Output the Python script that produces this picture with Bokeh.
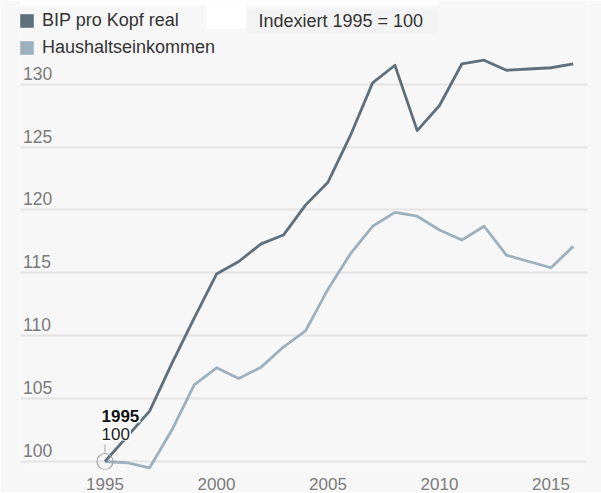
from bokeh.plotting import figure
from bokeh.models import (Range1d, FixedTicker, Legend, LegendItem, Label,
                          BoxAnnotation, ColumnDataSource)
from bokeh.core.properties import value
from bokeh.embed import file_html
from bokeh.resources import INLINE

# ---------------- data ----------------
years = list(range(1995, 2017))
bip_real = [100.0, 102.0, 104.0, 107.8, 111.4, 114.9, 115.9, 117.3, 118.0, 120.4,
            122.2, 125.9, 130.1, 131.5, 126.3, 128.3, 131.6, 131.9, 131.1, 131.2,
            131.3, 131.6]
haushalt = [100.0, 99.9, 99.5, 102.5, 106.1, 107.45, 106.6, 107.5, 109.1, 110.4,
            113.7, 116.5, 118.7, 119.8, 119.5, 118.4, 117.6, 118.7, 116.4, 115.9,
            115.4, 117.1]
series_names = ["BIP pro Kopf real", "Haushaltseinkommen"]
x_ticks = [1995, 2000, 2005, 2010, 2015]
y_ticks = [100, 105, 110, 115, 120, 125, 130]
y_tick_labels = [str(t) for t in y_ticks]
note_text = "Indexiert 1995 = 100"
ann_year = [1995]
ann_value = [100.0]
ann_year_label = ["1995"]
ann_value_label = ["100"]

# ---------------- styling / layout ----------------
FONT = "Liberation Sans"
BG = "#f7f7f7"
C_BIP = "#5f707c"
C_HH = "#9db0bd"
TICK_C = "#7b7b7b"

FRAME_W, FRAME_H = 567, 469
# calibration of the scales (page pixels)
PX_X1995, PX_PER_YEAR = 104.5, 22.3
PX_Y100, PX_PER_UNIT = 461.0, 12.58
FRAME_LEFT_PX, FRAME_TOP_PX = 20, 0

x0 = 1995 - (PX_X1995 - FRAME_LEFT_PX) / PX_PER_YEAR
x1 = x0 + FRAME_W / PX_PER_YEAR
y1 = 100 + (PX_Y100 - FRAME_TOP_PX) / PX_PER_UNIT
y0 = y1 - FRAME_H / PX_PER_UNIT

def xd(px):
    return x0 + (px - FRAME_LEFT_PX) / PX_PER_YEAR

def yd(py):
    return y1 - (py - FRAME_TOP_PX) / PX_PER_UNIT

p = figure(frame_width=FRAME_W, frame_height=FRAME_H,
           x_range=Range1d(x0, x1), y_range=Range1d(y0, y1),
           output_backend="svg", toolbar_location=None, y_axis_location=None,
           title=None, min_border_left=FRAME_LEFT_PX, min_border_right=14,
           min_border_top=0, min_border_bottom=0)
p.background_fill_color = BG
p.border_fill_color = BG
p.outline_line_color = None

p.xgrid.grid_line_color = None
p.ygrid.ticker = FixedTicker(ticks=y_ticks)
p.ygrid.grid_line_color = "#e4e4e4"
p.ygrid.grid_line_width = 2

ax = p.xaxis[0]
ax.ticker = FixedTicker(ticks=x_ticks)
ax.axis_line_color = None
ax.major_tick_line_color = None
ax.minor_tick_line_color = None
ax.major_label_standoff = 2
ax.major_label_text_font = FONT
ax.major_label_text_font_size = "17px"
ax.major_label_text_color = TICK_C

# top boxes
p.add_layout(BoxAnnotation(left=xd(0), right=xd(438), top=y1, bottom=yd(5),
                           fill_color="white", fill_alpha=1, line_color=None))
p.add_layout(BoxAnnotation(left=xd(206), right=xd(246), top=y1, bottom=yd(28),
                           fill_color="white", fill_alpha=1, line_color=None))
p.add_layout(BoxAnnotation(left=xd(246), right=xd(438), top=yd(8), bottom=yd(33),
                           fill_color="#f3f3f3", fill_alpha=1, line_color=None))

# y tick labels inside the plot, above grid lines
p.text(x=[x0] * len(y_ticks), y=y_ticks, text=y_tick_labels,
       x_offset=2.5, y_offset=-11, text_align="left", text_baseline="alphabetic",
       text_font=value(FONT), text_font_size="17.5px", text_color=TICK_C)

src = ColumnDataSource(dict(year=years, bip=bip_real, hh=haushalt))
r_hh = p.line("year", "hh", source=src, line_color=C_HH, line_width=2.8,
              line_join="round")
r_bip = p.line("year", "bip", source=src, line_color=C_BIP, line_width=2.8,
               line_join="round")

# annotation of the base year
p.scatter(x=ann_year, y=ann_value, marker="circle", size=16, fill_color=None,
          line_color="#a5a5a5", line_width=1.2)
p.segment(x0=ann_year, y0=[v + 0.72 for v in ann_value],
          x1=ann_year, y1=[v + 1.35 for v in ann_value],
          line_color="#b5b5b5", line_width=1.2)
p.text(x=ann_year, y=ann_value, text=ann_value_label, x_offset=-4.5, y_offset=-28,
       text_align="left", text_baseline="alphabetic", text_font=value(FONT),
       text_font_size="17px", text_color="#222222",
       background_fill_color="white", padding=1)
p.text(x=ann_year, y=ann_value, text=ann_year_label, x_offset=-4.5, y_offset=-46,
       text_align="left", text_baseline="alphabetic", text_font=value(FONT),
       text_font_size="17px", text_font_style="bold", text_color="#111111",
       background_fill_color="white", padding=1)

# legend swatches (renderers without visible marks)
nan = float("nan")
q_bip = p.quad(left=[nan], right=[nan], top=[nan], bottom=[nan],
               fill_color=C_BIP, line_color=None)
q_hh = p.quad(left=[nan], right=[nan], top=[nan], bottom=[nan],
              fill_color=C_HH, line_color=None)
legend = Legend(items=[LegendItem(label=series_names[0], renderers=[q_bip]),
                       LegendItem(label=series_names[1], renderers=[q_hh])],
                location=(-2, FRAME_H - 10 - 48), orientation="vertical",
                glyph_width=17, glyph_height=17, label_height=21, spacing=6,
                padding=0, margin=0, label_standoff=7,
                label_text_font=FONT, label_text_font_size="18px",
                label_text_color="#333333", background_fill_alpha=0,
                border_line_color=None)
p.add_layout(legend, "center")

p.add_layout(Label(x=xd(258), y=yd(20.5), text=note_text, text_font=FONT,
                   text_font_size="18px", text_color="#333333",
                   text_baseline="middle", text_align="left"))

open("out.html", "w").write(file_html(p, INLINE))
